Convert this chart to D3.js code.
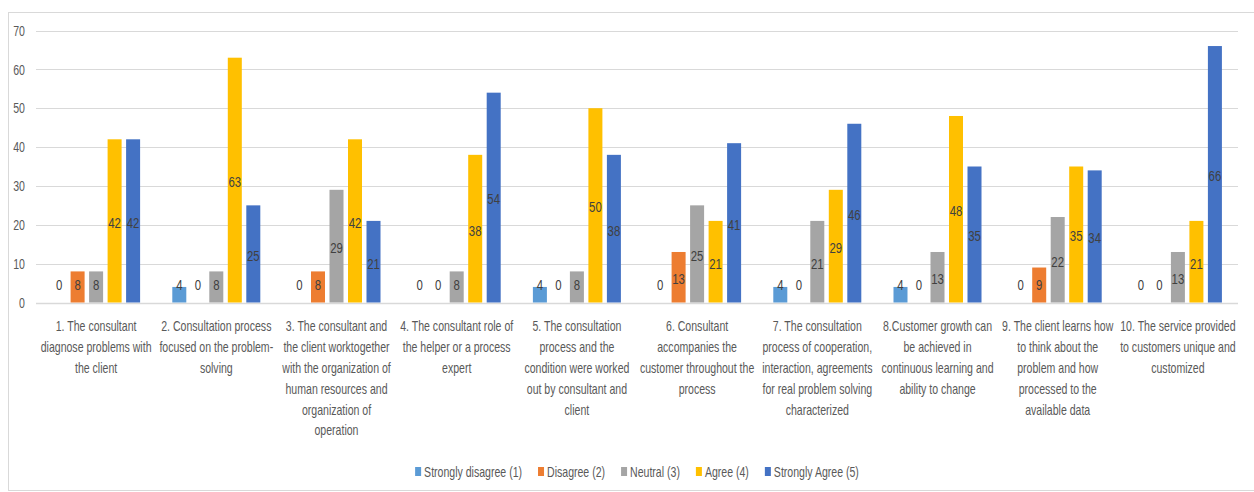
<!DOCTYPE html>
<html>
<head>
<meta charset="utf-8">
<script src="https://cdn.jsdelivr.net/npm/d3@7"></script>
<style>
  html, body { margin: 0; padding: 0; background: #fff; }
  svg text { font-family: "Liberation Sans", Arial, sans-serif; }
</style>
</head>
<body>
<svg id="chart" width="1254" height="492"></svg>
<script>
// Survey statements (category axis labels, pre-wrapped into lines)
const categories = [
  ["1. The consultant", "diagnose problems with", "the client"],
  ["2. Consultation process", "focused on the problem-", "solving"],
  ["3. The consultant and", "the client worktogether", "with the organization of", "human resources and", "organization of", "operation"],
  ["4. The consultant role of", "the helper or a process", "expert"],
  ["5. The consultation", "process and the", "condition were worked", "out by consultant and", "client"],
  ["6. Consultant", "accompanies the", "customer throughout the", "process"],
  ["7. The consultation", "process of cooperation,", "interaction, agreements", "for real problem solving", "characterized"],
  ["8.Customer growth can", "be achieved in", "continuous learning and", "ability to change"],
  ["9. The client learns how", "to think about the", "problem and how", "processed to the", "available data"],
  ["10. The service provided", "to customers unique and", "customized"]
];

const seriesNames = ["Strongly disagree (1)", "Disagree (2)", "Neutral (3)", "Agree (4)", "Strongly Agree (5)"];
const seriesColors = ["#5B9BD5", "#ED7D31", "#A5A5A5", "#FFC000", "#4472C4"];

const stronglyDisagree = [0, 4, 0, 0, 4, 0, 4, 4, 0, 0];
const disagree         = [8, 0, 8, 0, 0, 13, 0, 0, 9, 0];
const neutral          = [8, 8, 29, 8, 8, 25, 21, 13, 22, 13];
const agree            = [42, 63, 42, 38, 50, 21, 29, 48, 35, 21];
const stronglyAgree    = [42, 25, 21, 54, 38, 41, 46, 35, 34, 66];

const yTicks = [0, 10, 20, 30, 40, 50, 60, 70];

const seriesValues = [stronglyDisagree, disagree, neutral, agree, stronglyAgree];

// condensed look: text is squeezed horizontally
const FS = 14.5, SQ = 0.728;       // axis, category and legend text
const LFS = 15, LSQ = 0.76;        // value labels

const svg = d3.select("#chart");

// outer chart frame
svg.append("rect")
  .attr("x", 8.5).attr("y", 12.5)
  .attr("width", 1260).attr("height", 478)
  .attr("fill", "#fff")
  .attr("stroke", "#d9d9d9").attr("stroke-width", 1);

const plot = { left: 36, right: 1238, top: 30.5, bottom: 302.5 };

const x0 = d3.scaleBand()
  .domain(d3.range(categories.length))
  .range([plot.left, plot.right])
  .padding(0);

const x1 = d3.scaleBand()
  .domain(d3.range(seriesNames.length))
  .range([0, x0.bandwidth()])
  .paddingInner(0.243)
  .paddingOuter(0.87);

const y = d3.scaleLinear().domain([0, 70]).range([plot.bottom, plot.top]);

// gridlines
svg.append("g").selectAll("line")
  .data(yTicks)
  .join("line")
  .attr("x1", plot.left).attr("x2", plot.right)
  .attr("y1", d => Math.round(y(d)) + 0.5)
  .attr("y2", d => Math.round(y(d)) + 0.5)
  .attr("stroke", "#d9d9d9")
  .attr("stroke-width", d => d === 0 ? 1.6 : 1.2);

// y-axis tick labels
svg.append("g").selectAll("text")
  .data(yTicks)
  .join("text")
  .attr("transform", d => `translate(25,${y(d)}) scale(${SQ},1)`)
  .attr("dy", "0.36em")
  .attr("text-anchor", "end")
  .attr("font-size", FS)
  .attr("fill", "#595959")
  .text(d => d);

// bars
const rows = [];
categories.forEach((c, ci) => {
  seriesValues.forEach((vals, si) => rows.push({ ci, si, v: vals[ci] }));
});

svg.append("g").selectAll("rect")
  .data(rows.filter(d => d.v > 0))
  .join("rect")
  .attr("x", d => x0(d.ci) + x1(d.si))
  .attr("y", d => y(d.v))
  .attr("width", x1.bandwidth())
  .attr("height", d => y(0) - y(d.v))
  .attr("fill", d => seriesColors[d.si]);

// value labels, centred in each bar
svg.append("g").selectAll("text")
  .data(rows)
  .join("text")
  .attr("transform", d => {
    const lx = x0(d.ci) + x1(d.si) + x1.bandwidth() / 2;
    const ly = Math.min((y(d.v) + y(0)) / 2 + 1.5, y(0) - 17.5);
    return `translate(${lx},${ly}) scale(${LSQ},1)`;
  })
  .attr("dy", "0.36em")
  .attr("text-anchor", "middle")
  .attr("font-size", LFS)
  .attr("fill", "#404040")
  .text(d => d.v);

// category labels
svg.append("g").selectAll("text")
  .data(categories)
  .join("text")
  .attr("transform", (d, i) => `translate(${x0(i) + x0.bandwidth() / 2},0) scale(${SQ},1)`)
  .attr("text-anchor", "middle")
  .attr("font-size", FS)
  .attr("fill", "#595959")
  .each(function (lines) {
    d3.select(this).selectAll("tspan")
      .data(lines)
      .join("tspan")
      .attr("x", 0)
      .attr("y", (d, j) => 331.5 + j * 20.8)
      .text(d => d);
  });

// legend
const items = svg.append("g").selectAll("g")
  .data(seriesNames)
  .join("g");

items.append("rect")
  .attr("width", 6).attr("height", 9)
  .attr("y", 467)
  .attr("fill", (d, i) => seriesColors[i]);

items.append("text")
  .attr("transform", `translate(9,476.5) scale(${SQ},1)`)
  .attr("font-size", FS)
  .attr("fill", "#595959")
  .text(d => d);

const widths = [];
items.each(function () {
  widths.push(9 + SQ * d3.select(this).select("text").node().getComputedTextLength());
});
const total = d3.sum(widths) + 16 * (widths.length - 1);
const startX = (plot.left + plot.right) / 2 - total / 2;
let offset = 0;
items.attr("transform", (d, i) => {
  const tx = startX + offset;
  offset += widths[i] + 16;
  return `translate(${tx},0)`;
});
</script>
</body>
</html>
